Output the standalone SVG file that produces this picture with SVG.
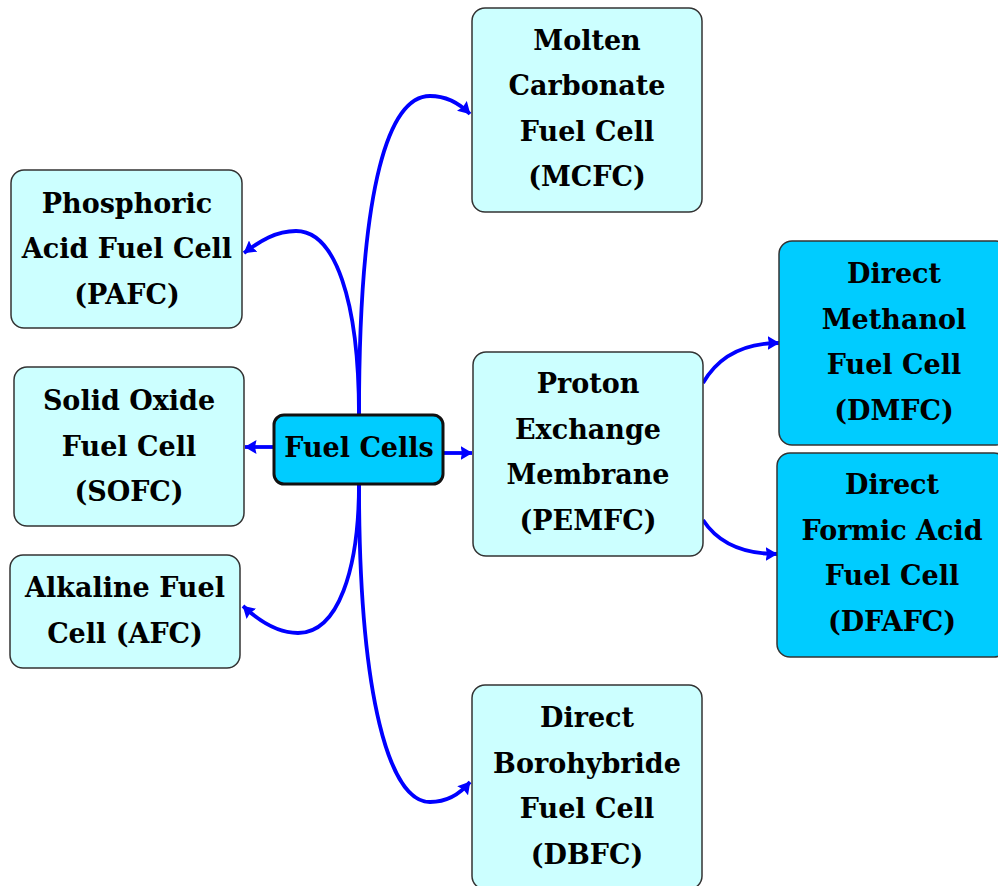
<svg xmlns="http://www.w3.org/2000/svg" width="998" height="886" viewBox="0 0 998 886">
<defs>
<style>
.n rect{stroke:#333;stroke-width:1.5}
.l rect{fill:#ccffff}
.d rect{fill:#00ccff}
text{font-family:"DejaVu Serif","Liberation Serif",serif;font-weight:bold;font-size:27px;fill:#000;text-anchor:middle}
.c path{fill:none;stroke:#0000ff;stroke-width:3.8}
</style>
<marker id="ah" viewBox="0 0 12 14" refX="11.5" refY="7" markerWidth="12" markerHeight="14" orient="auto" markerUnits="userSpaceOnUse">
<path d="M0,0 L12,7 L0,14 L1.5,7 Z" fill="#0000ff"/>
</marker>
</defs>
<rect width="998" height="886" fill="#fff"/>
<g class="c" id="connectors">
<path d="M359,415 C359,180 390,96 430,96 C448,96 460,104 470,114" marker-end="url(#ah)"/>
<path d="M359,415 C359,300 335,231 296,231 C276,231 260,241 244,253" marker-end="url(#ah)"/>
<path d="M274,447 L245,447" marker-end="url(#ah)"/>
<path d="M443,453 L472,453" marker-end="url(#ah)"/>
<path d="M359,484 C359,570 338,633 298,633 C278,633 260,622 243,606" marker-end="url(#ah)"/>
<path d="M359,484 C359,700 390,802 430,802 C448,802 460,794 470,782" marker-end="url(#ah)"/>
<path d="M703,383 C718,357 742,343 779,343" marker-end="url(#ah)"/>
<path d="M703,520 C718,543 742,554 777,554" marker-end="url(#ah)"/>
</g>
<g id="mcfc" class="n l"><rect x="472" y="8" width="230" height="204" rx="13"/>
<text x="587" y="49.5">Molten</text><text x="587" y="95">Carbonate</text><text x="587" y="140.5">Fuel Cell</text><text x="587" y="186">(MCFC)</text></g>
<g id="pafc" class="n l"><rect x="11" y="170" width="231" height="158" rx="13"/>
<text x="127" y="212.5">Phosphoric</text><text x="127" y="258">Acid Fuel Cell</text><text x="127" y="303.5">(PAFC)</text></g>
<g id="sofc" class="n l"><rect x="14" y="367" width="230" height="159" rx="13"/>
<text x="129" y="410">Solid Oxide</text><text x="129" y="455.5">Fuel Cell</text><text x="129" y="501">(SOFC)</text></g>
<g id="afc" class="n l"><rect x="10" y="555" width="230" height="113" rx="13"/>
<text x="125" y="597">Alkaline Fuel</text><text x="125" y="642.5">Cell (AFC)</text></g>
<g id="fuelcells" class="n d"><rect x="274" y="415" width="169" height="69" rx="10" style="stroke:#111;stroke-width:3"/>
<text x="359" y="457">Fuel Cells</text></g>
<g id="pemfc" class="n l"><rect x="473" y="352" width="230" height="204" rx="13"/>
<text x="588" y="393">Proton</text><text x="588" y="438.5">Exchange</text><text x="588" y="484">Membrane</text><text x="588" y="529.5">(PEMFC)</text></g>
<g id="dmfc" class="n d"><rect x="779" y="241" width="230" height="204" rx="13"/>
<text x="894" y="283">Direct</text><text x="894" y="328.5">Methanol</text><text x="894" y="374">Fuel Cell</text><text x="894" y="419.5">(DMFC)</text></g>
<g id="dfafc" class="n d"><rect x="777" y="453" width="230" height="204" rx="13"/>
<text x="892" y="494">Direct</text><text x="892" y="539.5">Formic Acid</text><text x="892" y="585">Fuel Cell</text><text x="892" y="630.5">(DFAFC)</text></g>
<g id="dbfc" class="n l"><rect x="472" y="685" width="230" height="204" rx="13"/>
<text x="587" y="727">Direct</text><text x="587" y="772.5">Borohybride</text><text x="587" y="818">Fuel Cell</text><text x="587" y="863.5">(DBFC)</text></g>
</svg>
